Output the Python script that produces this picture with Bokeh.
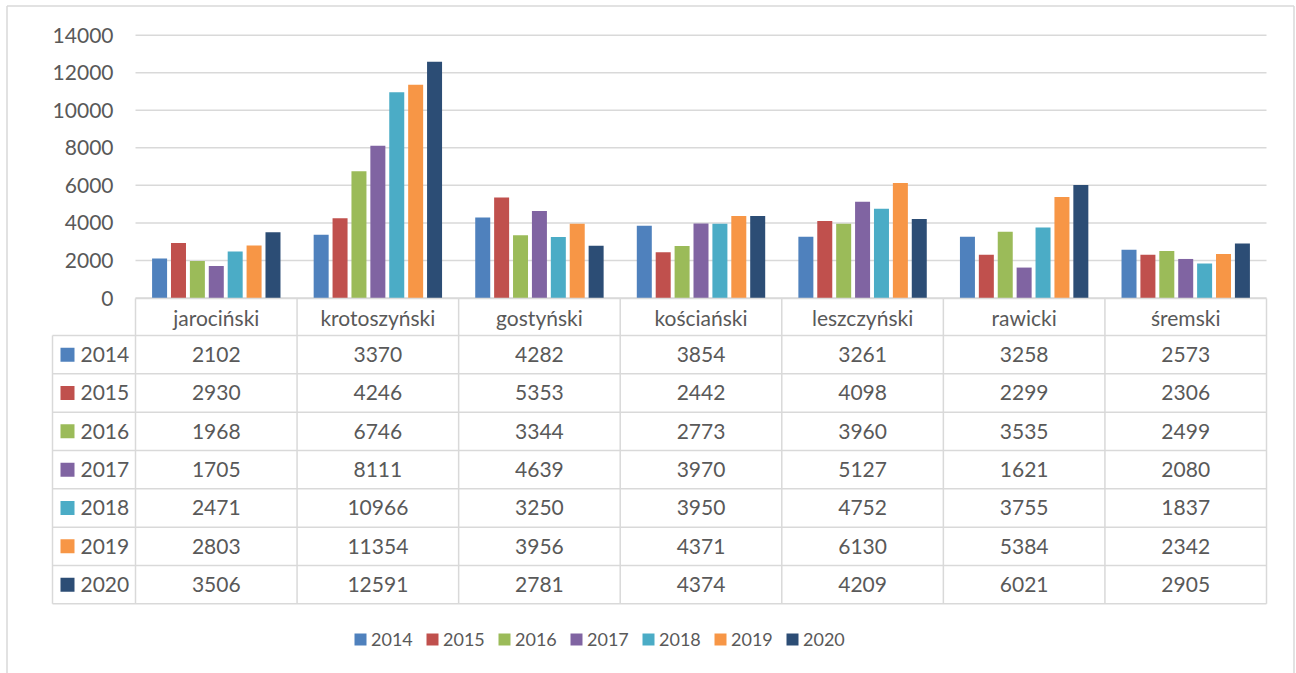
from bokeh.plotting import figure
from bokeh.models import Range1d
from bokeh.embed import file_html
from bokeh.resources import INLINE
from bokeh.core.properties import value

# ---------------- data ----------------
regions = ["jarociński", "krotoszyński", "gostyński", "kościański",
           "leszczyński", "rawicki", "śremski"]
years = ["2014", "2015", "2016", "2017", "2018", "2019", "2020"]
v2014 = [2102, 3370, 4282, 3854, 3261, 3258, 2573]
v2015 = [2930, 4246, 5353, 2442, 4098, 2299, 2306]
v2016 = [1968, 6746, 3344, 2773, 3960, 3535, 2499]
v2017 = [1705, 8111, 4639, 3970, 5127, 1621, 2080]
v2018 = [2471, 10966, 3250, 3950, 4752, 3755, 1837]
v2019 = [2803, 11354, 3956, 4371, 6130, 5384, 2342]
v2020 = [3506, 12591, 2781, 4374, 4209, 6021, 2905]
series = [v2014, v2015, v2016, v2017, v2018, v2019, v2020]
y_ticks = [0, 2000, 4000, 6000, 8000, 10000, 12000, 14000]
colors = ["#4F81BD", "#C0504D", "#9BBB59", "#8064A2", "#4BACC6", "#F79646", "#2C4D75"]

# ---------------- layout (page pixel -> data units) ----------------
W, H = 1296, 673
OFF = 0
PLOT_L, PLOT_R = 135.0, 1266.0
CW = (PLOT_R - PLOT_L) / len(regions)   # category width in px
Y0 = 297.5                    # pixel row of value 0
UPX = 14000 / (297.5 - 34.7)  # value units per pixel


def X(px):
    return (px - PLOT_L) / CW


def Y(py):
    return (Y0 - py) * UPX


FONT = value("Lato")
TXT = "#595959"
GRID = "#D9D9D9"
FS = "21px"

p = figure(width=W, height=H, output_backend="svg", toolbar_location=None,
           x_range=Range1d(X(OFF), X(OFF + W)), y_range=Range1d(Y(OFF + H), Y(OFF)),
           x_axis_type=None, y_axis_type=None, min_border=0,
           outline_line_color=None, background_fill_color="white",
           border_fill_color="white")
p.grid.visible = False

# outer chart border (left, top, right)
BL, BT, BR = 6.5, 5.5, 1293.5
p.segment(x0=[X(BL), X(BL), X(BR)],
          y0=[Y(OFF + H), Y(BT), Y(BT)],
          x1=[X(BL), X(BR), X(BR)],
          y1=[Y(BT), Y(BT), Y(OFF + H)],
          line_color=GRID, line_width=1.5)

# gridlines
p.segment(x0=[0] * len(y_ticks), x1=[len(regions)] * len(y_ticks),
          y0=y_ticks, y1=y_ticks, line_color=GRID, line_width=1.5)

# y tick labels
p.text(x=[X(113)] * len(y_ticks), y=y_ticks, text=[str(t) for t in y_ticks],
       text_font=FONT, text_font_size=FS, text_color=TXT,
       text_align="right", text_baseline="middle")

# bars
pitch = 18.9 / CW
bw = 15.0 / CW
n = len(years)
for k, (yr, vals, c) in enumerate(zip(years, series, colors)):
    xs = [i + 0.5 + (k - (n - 1) / 2) * pitch for i in range(len(regions))]
    p.vbar(x=xs, top=vals, bottom=0, width=bw, fill_color=c, line_color=None)

# ---------------- data table ----------------
head_top = 298.0
row0 = 335.0
rh = 38.33
row_tops = [row0 + rh * k for k in range(n + 1)]
# horizontal lines
p.segment(x0=[X(52)] * len(row_tops), x1=[len(regions)] * len(row_tops),
          y0=[Y(r) for r in row_tops], y1=[Y(r) for r in row_tops],
          line_color=GRID, line_width=1.5)
# axis line / header top
p.segment(x0=[0], x1=[len(regions)], y0=[Y(head_top)], y1=[Y(head_top)],
          line_color=GRID, line_width=1.5)
# vertical lines
vx = list(range(len(regions) + 1))
p.segment(x0=vx, x1=vx, y0=[Y(head_top)] * len(vx), y1=[Y(row_tops[-1])] * len(vx),
          line_color=GRID, line_width=1.5)
p.segment(x0=[X(52)], x1=[X(52)], y0=[Y(row0)], y1=[Y(row_tops[-1])],
          line_color=GRID, line_width=1.5)

# header labels
p.text(x=[i + 0.5 for i in range(len(regions))], y=[Y((head_top + row0) / 2)] * len(regions),
       text=regions, text_font=FONT, text_font_size=FS, text_color=TXT,
       text_align="center", text_baseline="middle")

# rows
for k, (yr, vals, c) in enumerate(zip(years, series, colors)):
    yc = Y(row0 + rh * (k + 0.5))
    p.scatter(x=[X(67)], y=[yc], marker="square", size=14, fill_color=c, line_color=None)
    p.text(x=[X(80)], y=[yc], text=[yr], text_font=FONT, text_font_size=FS,
           text_color=TXT, text_align="left", text_baseline="middle")
    p.text(x=[i + 0.5 for i in range(len(regions))], y=[yc] * len(regions),
           text=[str(v) for v in vals], text_font=FONT, text_font_size=FS,
           text_color=TXT, text_align="center", text_baseline="middle")

# ---------------- legend ----------------
leg_y = Y(639)
leg_x0 = 360.0
leg_step = 72.0
for k, (yr, c) in enumerate(zip(years, colors)):
    cx = leg_x0 + leg_step * k
    p.scatter(x=[X(cx)], y=[leg_y], marker="square", size=12, fill_color=c, line_color=None)
    p.text(x=[X(cx + 10.5)], y=[leg_y], text=[yr], text_font=FONT, text_font_size="18px",
           text_color=TXT, text_align="left", text_baseline="middle")

open("out.html", "w").write(file_html(p, INLINE))
